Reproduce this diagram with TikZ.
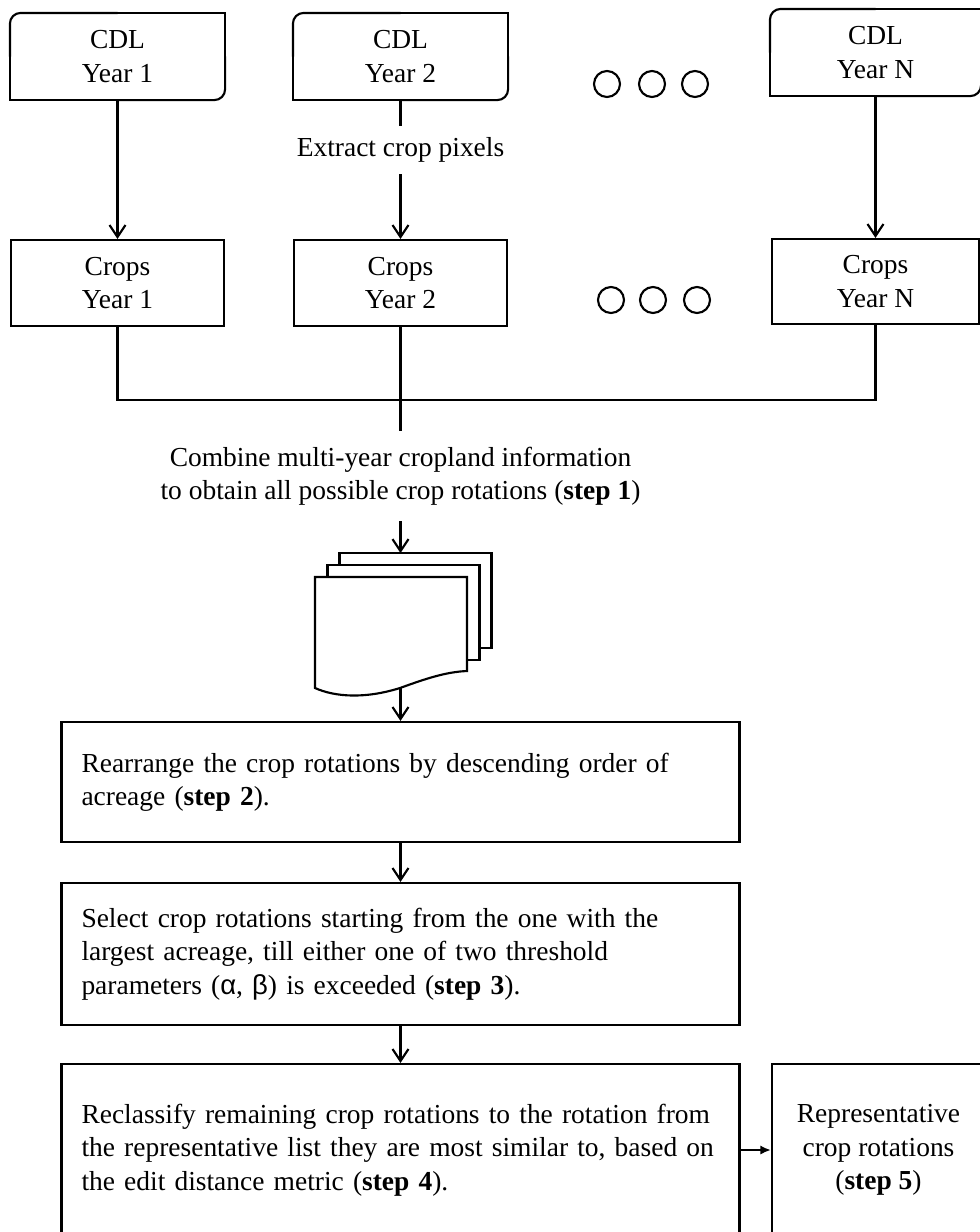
\documentclass[tikz,border=0pt]{standalone}
\usepackage{fontspec}
\setmainfont{Liberation Serif}
\newfontfamily\greekfont{Liberation Sans}
\usetikzlibrary{arrows.meta}
\newcommand{\cdlframe}[1]{%
\draw[line cap=round,rounded corners=8pt] (#1.west) -- (#1.north west) -- (#1.north);
\draw[line cap=round] (#1.north) -- (#1.north east) -- (#1.east);
\draw[line cap=round,rounded corners=8pt] (#1.east) -- (#1.south east) -- (#1.south);
\draw[line cap=round] (#1.south) -- (#1.south west) -- (#1.west);}
\begin{document}
\begin{tikzpicture}[x=0.75pt,y=-0.75pt,line width=1.6pt,
>={Straight Barb[length=9pt,width=12pt]},
font=\fontsize{20.6}{25}\selectfont,
cdl/.style={minimum width=159.75pt,minimum height=63.75pt,align=center,inner sep=0pt},
crops/.style={draw,minimum width=159.75pt,minimum height=64.5pt,align=center,inner sep=0pt},
dot/.style={draw,circle,minimum size=19.5pt,inner sep=0pt},
stepbox/.style={draw,text width=478.5pt,inner xsep=15pt,align=left},
sheet/.style={draw,fill=white,minimum width=114pt,minimum height=71.25pt}]
\useasboundingbox (0,0) rectangle (980,1232);
\coordinate (C1) at (117.5,56.5);
\coordinate (C2) at (400.5,56.5);
\coordinate (CN) at (875.5,52.5);
\coordinate (K1) at (117.5,283);
\coordinate (K2) at (400.5,283);
\coordinate (KN) at (875.5,281.5);
\coordinate (joinA) at (117.5,400);
\coordinate (join) at (400.5,400);
\coordinate (joinN) at (875.5,400);
\coordinate (docIn) at (400.5,553);
\coordinate (docOut) at (400.5,688);
\node[cdl] (cdlA) at (C1) {CDL\\Year 1};
\node[cdl] (cdlB) at (C2) {CDL\\Year 2};
\node[cdl,minimum width=156.75pt] (cdlN) at (CN) {CDL\\Year N};
\cdlframe{cdlA}
\cdlframe{cdlB}
\cdlframe{cdlN}
\node[crops] (cropsA) at (K1) {Crops\\Year 1};
\node[crops] (cropsB) at (K2) {Crops\\Year 2};
\node[crops,minimum width=155.25pt,minimum height=63.75pt] (cropsN) at (KN) {Crops\\Year N};
\node[dot] (dotT1) at (607,84) {};
\node[dot] (dotT2) at (652,84) {};
\node[dot] (dotT3) at (695,84) {};
\node[dot] (dotB1) at (611,300) {};
\node[dot] (dotB2) at (653,300) {};
\node[dot] (dotB3) at (697,300) {};
\node[inner ysep=8pt] (extract) at (400.5,150) {Extract crop pixels};
\draw[->] (cdlA) -- (cropsA);
\draw (cdlB) -- (extract);
\draw[->] (extract) -- (cropsB);
\draw[->] (cdlN) -- (cropsN);
\draw (cropsA) -- (joinA) -- (joinN) -- (cropsN);
\draw (cropsB) -- (join);
\node[align=center,inner ysep=11pt] (combine) at (400.5,476) {Combine multi-year cropland information\\to obtain all possible crop rotations (\textbf{step 1})};
\draw (join) -- (combine);
\node[sheet] (sheetC) at (415.5,600.5) {};
\node[sheet] (sheetB) at (403.5,612.5) {};
\draw[fill=white] (315,577) -- (467,577) -- (467,671) .. controls (445,672) and (425,679) .. (400,688) .. controls (365,699) and (335,697) .. (315,688) -- cycle;
\draw[->] (combine) -- (docIn);
\node[stepbox,minimum height=90pt] (rearr) at (400.5,782) {Rearrange the crop rotations by descending order of\\acreage (\textbf{step 2}).};
\node[stepbox,minimum height=106.5pt] (select) at (400.5,954) {Select crop rotations starting from the one with the\\largest acreage, till either one of two threshold\\parameters ({\greekfont α}, {\greekfont β}) is exceeded (\textbf{step 3}).};
\node[stepbox,minimum height=129pt] (reclass) at (400.5,1150) {Reclassify remaining crop rotations to the rotation from\\the representative list they are most similar to, based on\\the edit distance metric (\textbf{step 4}).};
\node[draw,align=center,minimum width=159.75pt,minimum height=129pt] (rep) at (878.5,1150) {Representative\\crop rotations\\(\textbf{step 5})};
\draw[->] (docOut) -- (rearr);
\draw[->] (rearr) -- (select);
\draw[->] (select) -- (reclass);
\draw[-{Latex[length=8pt,width=7pt]}] (reclass) -- (rep);
\end{tikzpicture}
\end{document}
